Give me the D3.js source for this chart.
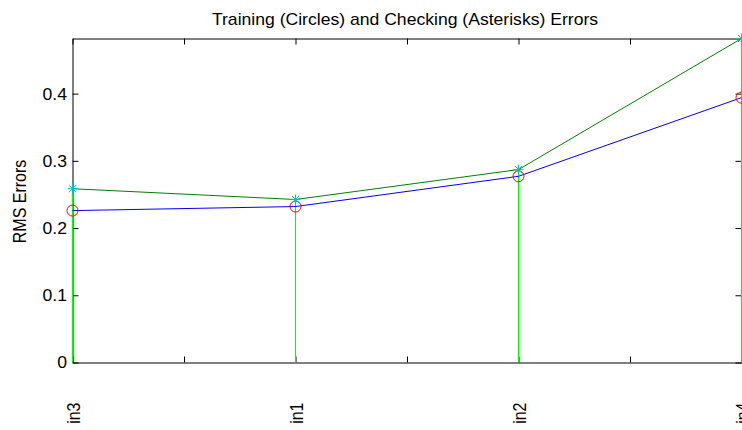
<!DOCTYPE html>
<html>
<head>
<meta charset="utf-8">
<script src="https://cdn.jsdelivr.net/npm/d3@7"></script>
<style>
  body { margin: 0; background: #fff; }
  svg { display: block; font-family: "Liberation Sans", Arial, sans-serif; }
</style>
</head>
<body>
<div id="chart"></div>
<script>
// input names in the order they were selected
const inputs = ["in3", "in1", "in2", "in4"];
// RMS errors
const trainErr = [0.226, 0.232, 0.277, 0.394];
const checkErr = [0.2585, 0.2425, 0.287, 0.482];
const yTicks = [0, 0.1, 0.2, 0.3, 0.4];
const xTicks = d3.range(1, 4.01, 0.5);

const width = 742, height = 430;
const marginTop = 38.5, marginLeft = 72.5, marginRight = 0.5, marginBottom = 67.5;
const sx = 1.1; // figure is stretched a little horizontally

const idx = d3.range(1, inputs.length + 1);

const x = d3.scaleLinear().domain([1, inputs.length]).range([marginLeft, width - marginRight]);
const y = d3.scaleLinear().domain([0, d3.max(checkErr)]).range([height - marginBottom, marginTop]);

const svg = d3.select("#chart").append("svg")
  .attr("width", width)
  .attr("height", height)
  .attr("viewBox", [0, 0, width, height]);

// axes box, ticks inside like matlab
function styleAxis(g) {
  g.select(".domain").attr("stroke", "#000");
  g.selectAll(".tick line").attr("stroke", "#000");
}

svg.append("g")
  .attr("transform", `translate(0,${y(0)})`)
  .call(d3.axisBottom(x).tickValues(xTicks).tickSize(-6).tickSizeOuter(0)
    .tickFormat(d => Number.isInteger(d) ? inputs[d - 1] : ""))
  .call(styleAxis)
  .call(g => g.selectAll("text")
    .attr("x", 0).attr("y", 0).attr("dy", "0.4em")
    .attr("text-anchor", "end")
    .attr("font-size", 16)
    .attr("fill", "#000")
    .attr("transform", `translate(0,40) scale(${sx},1) rotate(-90)`));

svg.append("g")
  .attr("transform", `translate(0,${marginTop})`)
  .call(d3.axisTop(x).tickValues(xTicks).tickSize(-6).tickSizeOuter(0).tickFormat(""))
  .call(styleAxis);

svg.append("g")
  .attr("transform", `translate(${marginLeft},0)`)
  .call(d3.axisLeft(y).tickValues(yTicks).tickSize(-6).tickSizeOuter(0).tickFormat(d3.format("~g")))
  .call(styleAxis)
  .call(g => g.selectAll("text")
    .attr("x", 0).attr("dy", "0.34em")
    .attr("font-size", 16)
    .attr("fill", "#000")
    .attr("transform", `translate(-5.5,0) scale(${sx},1)`));

svg.append("g")
  .attr("transform", `translate(${width - marginRight},0)`)
  .call(d3.axisRight(y).tickValues(yTicks).tickSize(-6).tickSizeOuter(0).tickFormat(""))
  .call(styleAxis);

// stems for checking error
svg.append("g")
  .attr("stroke", "#00ff00")
  .attr("stroke-width", 1.2)
  .selectAll("line")
  .data(idx)
  .join("line")
  .attr("x1", d => x(d)).attr("x2", d => x(d))
  .attr("y1", y(0)).attr("y2", d => y(checkErr[d - 1]));

const line = (vals) => d3.line().x(d => x(d)).y(d => y(vals[d - 1]))(idx);

svg.append("path")
  .attr("d", line(trainErr))
  .attr("fill", "none")
  .attr("stroke", "#0000ff")
  .attr("stroke-width", 1);

svg.append("path")
  .attr("d", line(checkErr))
  .attr("fill", "none")
  .attr("stroke", "#008000")
  .attr("stroke-width", 1);

// circles = training
svg.append("g")
  .selectAll("circle")
  .data(idx)
  .join("circle")
  .attr("cx", d => x(d))
  .attr("cy", d => y(trainErr[d - 1]))
  .attr("r", 5.5)
  .attr("fill", "none")
  .attr("stroke", "#ff0000")
  .attr("stroke-width", 1);

// asterisks = checking
const r = 5, q = 3.6;
svg.append("g")
  .selectAll("path")
  .data(idx)
  .join("path")
  .attr("transform", d => `translate(${x(d)},${y(checkErr[d - 1])})`)
  .attr("d", `M${-r},0H${r}M0,${-r}V${r}M${-q},${-q}L${q},${q}M${-q},${q}L${q},${-q}`)
  .attr("fill", "none")
  .attr("stroke", "#00bfbf")
  .attr("stroke-width", 1);

// title and y label
svg.append("text")
  .attr("transform", `translate(${(marginLeft + width - marginRight) / 2 - 2},25) scale(${sx},1)`)
  .attr("text-anchor", "middle")
  .attr("font-size", 16)
  .text("Training (Circles) and Checking (Asterisks) Errors");

svg.append("text")
  .attr("transform", `translate(26,${(marginTop + height - marginBottom) / 2 + 1}) scale(${sx},1) rotate(-90)`)
  .attr("text-anchor", "middle")
  .attr("font-size", 16)
  .text("RMS Errors");
</script>
</body>
</html>
